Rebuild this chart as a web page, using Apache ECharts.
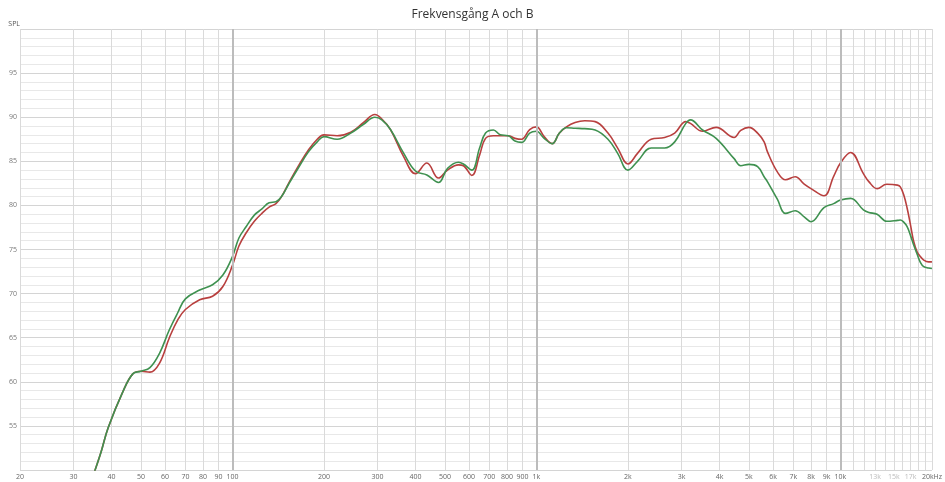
<!DOCTYPE html>
<html><head><meta charset="utf-8">
<script src="https://cdn.jsdelivr.net/npm/echarts@6/dist/echarts.min.js"></script>
<style>html,body{margin:0;padding:0;background:#fff}#c{width:945px;height:482px}</style>
</head><body><div id="c"></div>
<script>
const freqHz = [35,37,39,43.5,47,50,53.5,57.5,62,66,70,78,86,93,100,105,111,118,125,132,139,145,153,165,178,190,200,221,245,270,294,310,331,366,400,436,476,510,554,575,613,650,680,722,760,808,850,894,950,1000,1060,1127,1190,1255,1340,1442,1560,1719,1850,2000,2150,2384,2640,2850,3100,3210,3520,3900,4470,4700,5000,5340,5610,5750,6200,6600,7100,7600,8000,8830,9500,10000,10800,11900,12400,13200,14200,15400,15740,16150,16570,17000,17420,17870,18320,18800,19500,20000];
const splA = [49.6,52.1,54.8,58.8,60.9,61.2,61.1,62.1,65.0,67.0,68.2,69.3,69.7,70.8,73.2,75.4,76.9,78.2,79.1,79.8,80.2,81.0,82.5,84.5,86.3,87.5,88.0,87.9,88.3,89.4,90.3,89.8,88.6,85.5,83.6,84.8,83.1,84.0,84.6,84.5,83.4,85.7,87.6,87.9,87.9,87.9,87.6,87.5,88.6,88.9,87.8,87.0,88.2,88.9,89.4,89.6,89.5,88.2,86.5,84.7,85.9,87.5,87.7,88.2,89.5,89.3,88.4,88.85,87.7,88.5,88.85,88.2,87.2,86.1,83.8,82.9,83.25,82.4,81.9,81.1,83.3,84.8,86.0,83.6,82.7,81.9,82.4,82.3,82.1,81.2,79.7,77.8,75.9,74.75,74.2,73.8,73.6,73.6];
const splB = [49.6,52.1,54.8,58.8,60.9,61.2,61.6,63.2,65.9,67.8,69.4,70.4,71.0,72.1,74.2,76.3,77.6,78.9,79.6,80.3,80.4,81.0,82.4,84.3,86.1,87.2,87.8,87.5,88.2,89.2,90.0,89.7,88.6,85.9,83.9,83.45,82.6,84.2,84.9,84.7,84.0,86.5,88.2,88.55,88.0,87.9,87.3,87.15,88.2,88.4,87.6,87.0,88.2,88.8,88.75,88.7,88.55,87.5,85.9,84.0,85.0,86.5,86.5,87.2,89.3,89.7,88.55,87.6,85.3,84.5,84.65,84.4,83.25,82.7,80.7,79.1,79.4,78.7,78.15,79.75,80.2,80.6,80.8,79.5,79.2,79.0,78.2,78.3,78.35,78.1,77.6,76.6,75.5,74.5,73.55,73.05,72.9,72.85];
const xGridHz = [20,30,40,50,60,70,80,90,100,200,300,400,500,600,700,800,900,1000,2000,3000,4000,5000,6000,7000,8000,9000,10000,11000,12000,13000,14000,15000,16000,17000,18000,19000,20000];
const xLabelHz = [20,30,40,50,60,70,80,90,100,200,300,400,500,600,700,800,900,1000,2000,3000,4000,5000,6000,7000,8000,9000,10000,13000,15000,17000,20000];
const xMajorHz = [100,1000,10000];
const titleText = 'Frekvensgång A och B';

const chart = echarts.init(document.getElementById('c'), null, {renderer:'canvas'});
const fmtHz = v => { v = Math.round(v); if (v === 20000) return '20kHz'; return v >= 1000 ? (v/1000)+'k' : String(v); };
const fontFam = '"Open Sans", "Noto Sans", sans-serif';
chart.setOption({
  animation: false,
  backgroundColor: '#fff',
  title: { text: titleText, left: 'center', top: 4, textStyle: { fontSize: 12, fontWeight: 'normal', color: '#333', fontFamily: fontFam } },
  grid: { left: 20, right: 10, top: 29, bottom: 12, containLabel: false },
  xAxis: {
    type: 'log', logBase: 10, min: 20, max: 20000,
    axisLine: { show: false },
    axisTick: { show: false, customValues: xGridHz },
    splitLine: { show: true, lineStyle: { color: '#dadada', width: 1 } },
    axisLabel: { customValues: xLabelHz, formatter: fmtHz, fontSize: 7, margin: 3, fontFamily: fontFam,
      color: v => (Math.round(v) > 10000 && Math.round(v) < 20000) ? '#bbbbbb' : '#666666' }
  },
  yAxis: {
    type: 'value', min: 50, max: 100, interval: 5,
    name: 'SPL', nameLocation: 'end', nameGap: 2,
    nameTextStyle: { fontSize: 7, color: '#555', fontFamily: fontFam, align: 'right', padding: [0, 0, 0, 0] },
    axisLine: { show: false }, axisTick: { show: false },
    minorTick: { show: false, splitNumber: 5 },
    splitLine: { show: true, lineStyle: { color: '#d4d4d4', width: 1 } },
    minorSplitLine: { show: true, lineStyle: { color: '#e8e8e8', width: 1 } },
    axisLabel: { fontSize: 7, margin: 3, color: '#777', fontFamily: fontFam, formatter: v => (v === 50 || v === 100) ? '' : String(v) }
  },
  series: [
    { name: 'A', type: 'line', showSymbol: false, smooth: 0.4, clip: true,
      data: freqHz.map((f, i) => [f, splA[i]]),
      lineStyle: { color: '#b8403f', width: 1.6 }, itemStyle: { color: '#b8403f' },
      markLine: { silent: true, symbol: ['none','none'], label: { show: false },
        lineStyle: { color: '#bcbcbc', width: 2, type: 'solid' },
        data: xMajorHz.map(f => ({ xAxis: f })) } },
    { name: 'B', type: 'line', showSymbol: false, smooth: 0.4, clip: true,
      data: freqHz.map((f, i) => [f, splB[i]]),
      lineStyle: { color: '#3f9150', width: 1.6 }, itemStyle: { color: '#3f9150' } }
  ]
});
</script></body></html>
